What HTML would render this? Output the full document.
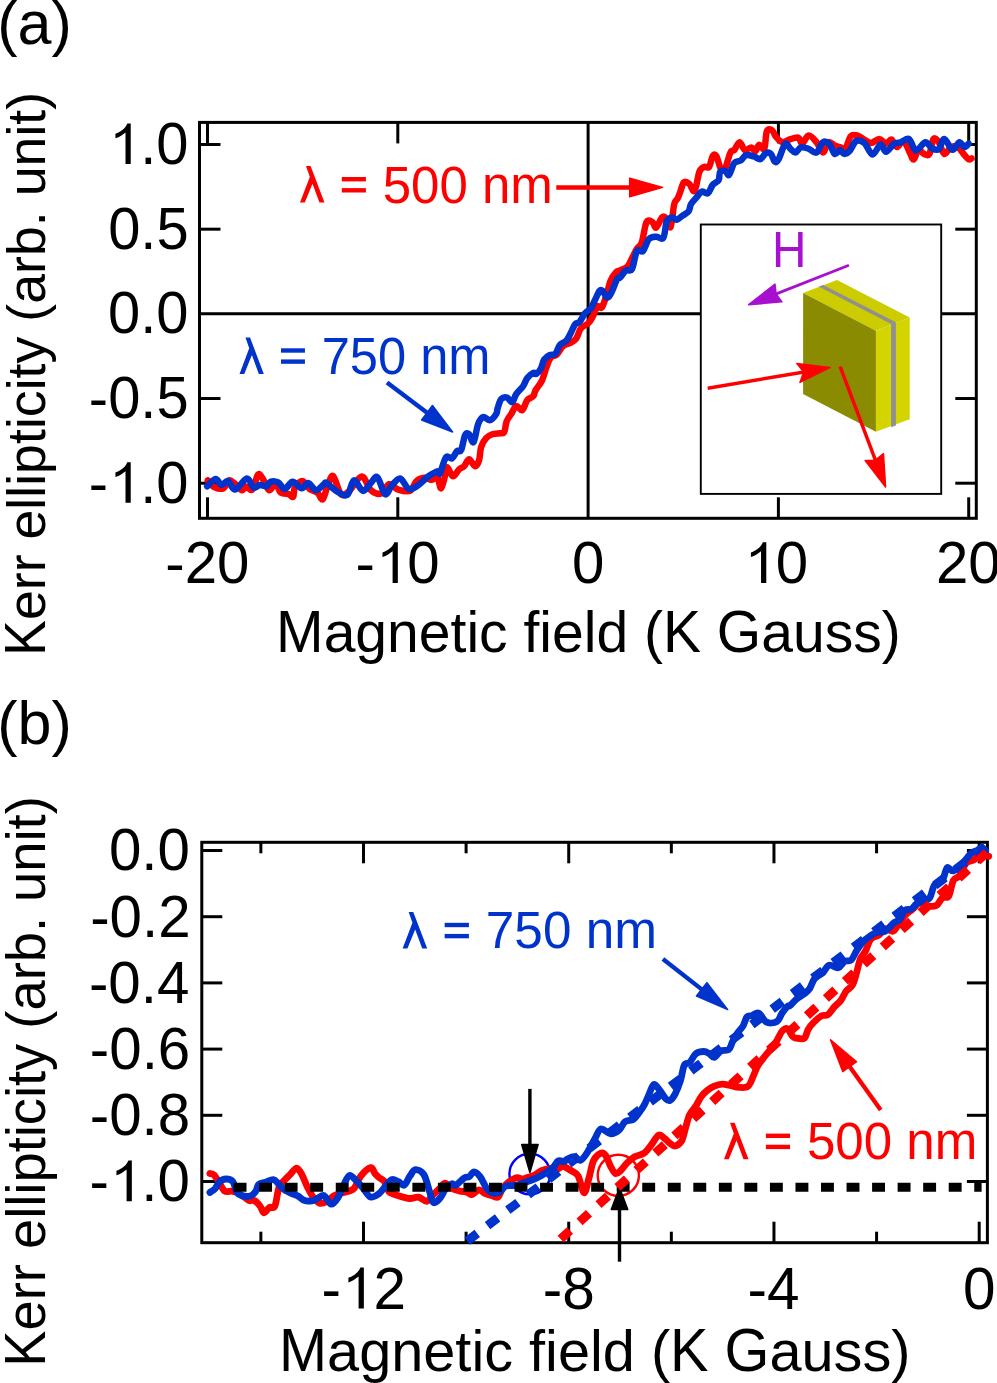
<!DOCTYPE html>
<html><head><meta charset="utf-8"><style>
html,body{margin:0;padding:0;background:#fff;width:997px;height:1383px;overflow:hidden}
svg{display:block}
text{font-family:"Liberation Sans",sans-serif}
</style></head><body>
<svg width="997" height="1383" viewBox="0 0 997 1383">
<rect width="997" height="1383" fill="#fff"/>
<defs><clipPath id="ca"><rect x="199.5" y="122.4" width="776.8" height="395.9"/></clipPath>
<clipPath id="cb"><rect x="201.8" y="842.3" width="785.6" height="400.4"/></clipPath></defs>
<line x1="588.10" y1="122.40" x2="588.10" y2="518.30" stroke="#000000" stroke-width="3.0" />
<line x1="199.50" y1="313.85" x2="976.30" y2="313.85" stroke="#000000" stroke-width="3.0" />
<line x1="207.50" y1="122.40" x2="207.50" y2="143.40" stroke="#000000" stroke-width="3.0" />
<line x1="207.50" y1="518.30" x2="207.50" y2="497.30" stroke="#000000" stroke-width="3.0" />
<line x1="397.80" y1="122.40" x2="397.80" y2="143.40" stroke="#000000" stroke-width="3.0" />
<line x1="397.80" y1="518.30" x2="397.80" y2="497.30" stroke="#000000" stroke-width="3.0" />
<line x1="778.40" y1="122.40" x2="778.40" y2="143.40" stroke="#000000" stroke-width="3.0" />
<line x1="778.40" y1="518.30" x2="778.40" y2="497.30" stroke="#000000" stroke-width="3.0" />
<line x1="968.70" y1="122.40" x2="968.70" y2="143.40" stroke="#000000" stroke-width="3.0" />
<line x1="968.70" y1="518.30" x2="968.70" y2="497.30" stroke="#000000" stroke-width="3.0" />
<line x1="199.50" y1="144.50" x2="220.50" y2="144.50" stroke="#000000" stroke-width="3.0" />
<line x1="976.30" y1="144.50" x2="955.30" y2="144.50" stroke="#000000" stroke-width="3.0" />
<line x1="199.50" y1="229.18" x2="220.50" y2="229.18" stroke="#000000" stroke-width="3.0" />
<line x1="976.30" y1="229.18" x2="955.30" y2="229.18" stroke="#000000" stroke-width="3.0" />
<line x1="199.50" y1="398.53" x2="220.50" y2="398.53" stroke="#000000" stroke-width="3.0" />
<line x1="976.30" y1="398.53" x2="955.30" y2="398.53" stroke="#000000" stroke-width="3.0" />
<line x1="199.50" y1="483.20" x2="220.50" y2="483.20" stroke="#000000" stroke-width="3.0" />
<line x1="976.30" y1="483.20" x2="955.30" y2="483.20" stroke="#000000" stroke-width="3.0" />
<g clip-path="url(#ca)">
<path d="M207.8 480.4 C208.9 481.5 211.7 485.7 214.3 487.0 C216.9 488.3 221.1 489.4 223.5 488.3 C225.9 487.2 227.0 481.3 228.7 480.4 C230.4 479.5 231.7 481.4 233.9 483.0 C236.1 484.6 239.8 489.6 241.7 490.2 C243.6 490.8 243.8 486.4 245.6 486.3 C247.3 486.2 250.1 491.6 252.2 489.6 C254.3 487.7 256.3 476.5 258.0 474.6 C259.7 472.8 260.8 475.9 262.6 478.5 C264.5 481.1 266.9 489.3 269.1 490.2 C271.3 491.1 273.7 483.3 275.6 483.7 C277.6 484.1 278.6 491.1 280.8 492.8 C283.0 494.5 286.6 493.5 288.7 494.1 C290.8 494.8 292.1 498.0 293.2 496.7 C294.3 495.4 293.6 488.9 295.2 486.3 C296.8 483.7 300.6 480.7 303.0 481.1 C305.4 481.5 307.1 486.9 309.5 488.9 C311.9 490.8 315.2 491.1 317.4 492.8 C319.6 494.5 321.0 500.2 322.6 499.3 C324.2 498.4 325.4 491.5 327.1 487.6 C328.8 483.7 330.7 474.8 333.0 475.9 C335.3 477.0 338.3 491.5 340.9 494.1 C343.5 496.7 345.2 494.4 348.7 491.5 C352.2 488.6 358.0 476.7 361.7 476.5 C365.4 476.3 367.6 487.4 370.9 490.2 C374.2 493.0 378.3 494.5 381.3 493.5 C384.3 492.5 386.3 484.9 389.1 484.3 C391.9 483.7 394.7 488.5 398.2 489.6 C401.7 490.7 406.9 492.3 410.0 490.9 C413.1 489.5 414.1 483.3 416.5 481.1 C418.9 478.9 421.7 478.0 424.3 477.8 C426.9 477.6 429.9 479.9 432.1 479.8 C434.3 479.7 435.9 475.8 437.4 477.2 C438.9 478.6 439.8 489.5 441.3 488.3 C442.8 487.1 445.4 473.3 446.5 470.0 C447.6 466.7 446.9 467.2 448.0 468.3 C449.1 469.4 451.1 476.1 453.0 476.3 C454.9 476.5 457.2 471.0 459.1 469.3 C461.0 467.6 462.4 468.0 464.1 466.3 C465.8 464.6 467.3 459.3 469.1 459.3 C470.9 459.3 473.4 466.1 475.1 466.3 C476.8 466.5 478.1 463.5 479.1 460.3 C480.1 457.1 479.9 450.9 481.1 447.2 C482.3 443.5 484.2 440.4 486.1 438.2 C488.0 436.0 489.9 435.0 492.2 434.2 C494.5 433.4 498.2 433.5 500.2 433.2 C502.2 432.9 503.1 434.2 504.2 432.2 C505.3 430.2 505.5 424.2 506.7 421.2 C507.9 418.2 509.6 416.6 511.2 414.1 C512.8 411.6 514.4 406.8 516.2 406.1 C518.0 405.4 520.4 411.1 522.2 410.1 C524.1 409.1 525.4 402.4 527.3 400.1 C529.1 397.8 531.9 397.7 533.3 396.1 C534.7 394.5 534.0 392.9 535.5 390.3 C537.0 387.7 540.3 384.2 542.1 380.3 C543.9 376.4 545.0 371.0 546.5 367.1 C548.0 363.2 549.3 359.2 551.0 357.2 C552.7 355.2 554.5 356.9 556.5 355.0 C558.5 353.1 560.7 348.1 563.1 346.1 C565.5 344.1 568.6 344.1 570.8 342.8 C573.0 341.5 574.6 340.8 576.3 338.4 C578.0 336.0 578.8 331.1 580.8 328.5 C582.8 325.9 586.5 325.0 588.5 323.0 C590.5 321.0 591.4 319.1 592.9 316.3 C594.4 313.5 595.8 307.9 597.3 306.4 C598.8 304.9 600.2 309.1 601.7 307.5 C603.2 305.9 604.6 300.9 606.1 296.5 C607.6 292.1 608.8 285.1 610.5 281.0 C612.2 276.9 614.5 274.0 616.1 272.2 C617.7 270.4 618.1 271.3 620.0 270.4 C621.9 269.5 625.2 268.8 627.2 266.8 C629.2 264.8 630.4 261.3 632.0 258.3 C633.6 255.3 635.3 251.3 636.9 248.7 C638.5 246.1 640.1 247.1 641.7 242.7 C643.3 238.3 644.7 225.6 646.5 222.2 C648.3 218.8 650.9 221.3 652.5 222.2 C654.1 223.1 654.5 228.4 656.1 227.6 C657.7 226.8 660.5 219.0 662.1 217.4 C663.7 215.8 664.3 216.4 665.7 218.0 C667.1 219.6 669.2 229.3 670.6 227.0 C672.0 224.7 673.0 209.0 674.2 204.2 C675.4 199.4 676.8 200.1 677.8 198.1 C678.8 196.1 679.2 194.7 680.2 192.1 C681.2 189.5 682.3 183.9 683.8 182.5 C685.3 181.1 687.4 182.3 689.2 183.7 C691.0 185.1 692.9 192.9 694.6 190.9 C696.3 188.9 697.8 175.7 699.4 171.7 C701.0 167.7 702.7 167.7 704.3 166.9 C705.9 166.1 707.7 168.7 709.1 166.9 C710.5 165.1 711.5 157.8 712.7 156.0 C713.9 154.2 714.9 153.8 716.3 156.0 C717.7 158.2 719.6 167.3 721.1 169.3 C722.6 171.3 723.7 171.0 725.2 168.2 C726.8 165.4 728.9 155.6 730.4 152.6 C731.9 149.6 732.8 151.7 734.3 150.0 C735.8 148.3 737.9 142.2 739.6 142.2 C741.4 142.2 742.8 149.1 744.8 150.0 C746.8 150.9 749.6 147.2 751.3 147.4 C753.0 147.6 753.9 151.7 755.2 151.3 C756.5 150.9 757.6 145.2 759.1 144.8 C760.6 144.4 763.0 151.0 764.3 148.7 C765.6 146.4 765.6 134.1 766.9 131.1 C768.2 128.1 770.7 129.4 772.2 130.4 C773.7 131.4 774.4 135.0 776.1 137.0 C777.8 139.0 780.4 141.8 782.6 142.2 C784.8 142.6 786.5 140.4 789.1 139.6 C791.7 138.8 796.0 136.9 798.2 137.6 C800.4 138.2 800.4 143.8 802.1 143.5 C803.9 143.2 806.3 135.8 808.7 135.6 C811.1 135.4 814.1 139.4 816.5 142.2 C818.9 145.0 821.0 152.6 823.0 152.6 C825.0 152.6 826.2 143.4 828.2 142.2 C830.2 141.0 832.7 144.6 834.7 145.4 C836.7 146.2 838.2 146.6 840.0 147.1 C841.8 147.6 843.6 150.2 845.4 148.4 C847.2 146.6 848.8 138.3 850.8 136.2 C852.8 134.1 855.3 135.0 857.6 135.6 C859.9 136.2 862.1 138.4 864.4 139.6 C866.6 140.8 868.6 143.1 871.1 143.0 C873.6 142.9 876.8 138.9 879.3 139.0 C881.8 139.1 884.0 143.6 886.0 143.7 C888.0 143.8 889.7 139.0 891.5 139.6 C893.3 140.2 894.9 146.9 896.9 147.1 C898.9 147.3 901.4 139.9 903.6 141.0 C905.9 142.1 908.7 150.8 910.4 153.9 C912.1 157.0 912.4 160.0 913.8 159.3 C915.1 158.6 916.8 150.7 918.5 149.8 C920.2 148.9 922.2 153.2 924.0 153.9 C925.8 154.6 927.8 156.4 929.4 153.9 C931.0 151.4 931.8 140.9 933.4 139.0 C935.0 137.1 937.0 139.8 938.8 142.3 C940.6 144.8 942.3 153.1 944.3 153.9 C946.3 154.7 948.8 148.2 951.0 147.1 C953.2 146.0 955.5 145.8 957.8 147.1 C960.1 148.4 962.8 153.2 964.6 155.2 C966.4 157.2 967.5 158.8 968.6 159.3 C969.8 159.8 971.0 158.6 971.5 158.4" fill="none" stroke="#ff0000" stroke-width="6.5" stroke-linejoin="round" stroke-linecap="round"/>
<path d="M207.2 486.3 C208.6 485.1 213.2 479.3 215.6 479.1 C218.0 478.9 219.4 484.7 221.5 485.0 C223.6 485.3 225.7 480.3 228.0 481.1 C230.3 481.9 232.0 490.0 235.2 489.6 C238.3 489.2 243.8 478.8 246.9 478.5 C250.0 478.2 251.3 486.5 253.5 487.6 C255.7 488.7 257.8 485.2 260.0 485.0 C262.2 484.8 264.8 486.9 266.5 486.3 C268.2 485.8 268.4 482.4 270.4 481.7 C272.3 481.0 275.8 481.2 278.2 482.4 C280.6 483.6 282.4 489.0 284.8 488.9 C287.2 488.8 289.8 481.8 292.6 481.7 C295.4 481.6 299.1 488.1 301.7 488.3 C304.3 488.5 305.8 482.7 308.2 483.0 C310.6 483.3 313.4 490.0 316.0 490.2 C318.6 490.4 322.1 485.5 323.9 484.3 C325.6 483.1 324.3 481.8 326.5 483.0 C328.7 484.2 333.5 489.5 337.0 491.5 C340.5 493.5 344.6 496.7 347.4 494.8 C350.2 492.9 351.3 481.0 353.9 480.4 C356.5 479.8 360.2 490.5 363.0 490.9 C365.8 491.3 368.5 485.3 370.9 483.0 C373.3 480.7 375.0 475.3 377.4 477.2 C379.8 479.1 382.8 492.7 385.2 494.1 C387.6 495.5 389.2 488.2 391.7 485.6 C394.2 483.0 397.4 477.9 400.2 478.5 C403.0 479.1 405.8 487.7 408.7 488.9 C411.6 490.1 414.6 487.7 417.8 485.6 C421.1 483.5 424.9 478.9 428.2 476.5 C431.5 474.1 435.4 471.8 437.4 471.3 C439.4 470.8 438.6 475.6 440.0 473.3 C441.4 471.0 444.0 459.8 446.0 457.3 C448.0 454.8 450.2 459.3 452.0 458.3 C453.8 457.3 455.5 452.6 457.0 451.2 C458.5 449.8 459.8 452.9 461.1 450.2 C462.5 447.5 463.8 437.9 465.1 435.2 C466.4 432.5 467.7 433.0 469.1 434.2 C470.5 435.4 472.1 443.9 473.6 442.2 C475.1 440.5 476.5 428.4 478.1 424.2 C479.7 420.0 481.1 417.8 483.1 417.1 C485.1 416.4 488.0 420.7 490.2 420.2 C492.4 419.7 494.9 416.1 496.2 414.1 C497.4 412.1 496.9 410.6 497.7 408.1 C498.5 405.6 499.6 400.9 501.2 399.1 C502.8 397.4 505.4 397.1 507.2 397.6 C509.0 398.1 510.7 402.7 512.2 402.1 C513.7 401.5 514.4 396.8 516.2 394.1 C518.0 391.4 521.4 388.7 523.2 386.0 C525.1 383.3 525.6 380.2 527.3 378.0 C529.0 375.8 531.8 373.7 533.3 373.0 C534.8 372.3 535.3 374.5 536.6 373.7 C537.9 372.9 539.7 370.6 541.0 368.2 C542.3 365.8 542.8 361.6 544.3 359.4 C545.8 357.2 548.0 355.9 549.9 355.0 C551.8 354.1 553.8 355.5 555.4 353.8 C557.0 352.1 558.0 347.2 559.8 345.0 C561.6 342.8 564.6 342.6 566.4 340.6 C568.2 338.6 569.3 335.6 570.8 332.9 C572.3 330.1 573.7 325.9 575.2 324.1 C576.7 322.3 577.9 323.8 579.6 321.9 C581.3 320.0 583.4 315.2 585.2 313.0 C587.1 310.8 589.1 310.8 590.7 308.6 C592.4 306.4 593.6 302.7 595.1 299.8 C596.6 296.9 598.2 292.5 599.5 291.0 C600.8 289.5 601.5 289.9 602.8 291.0 C604.1 292.1 605.7 297.4 607.2 297.6 C608.7 297.8 609.9 295.2 611.6 292.1 C613.3 289.0 615.8 281.2 617.2 278.8 C618.6 276.4 618.5 279.0 620.0 277.6 C621.5 276.2 624.0 271.8 626.0 270.4 C628.0 269.0 630.2 272.4 632.0 269.2 C633.8 266.0 635.1 254.1 636.9 251.1 C638.7 248.1 640.9 253.1 642.9 251.1 C644.9 249.1 646.7 241.5 648.9 239.1 C651.1 236.7 653.7 236.9 656.1 236.7 C658.5 236.5 661.5 240.5 663.3 237.9 C665.1 235.3 665.3 224.4 666.9 221.0 C668.5 217.6 671.4 217.6 673.0 217.4 C674.6 217.2 675.0 220.1 676.6 219.8 C678.2 219.5 680.6 217.0 682.6 215.6 C684.6 214.2 687.2 213.3 688.6 211.4 C690.0 209.5 689.6 206.6 691.0 204.2 C692.4 201.8 695.2 199.0 697.0 196.9 C698.8 194.8 700.0 192.1 701.8 191.5 C703.6 190.9 706.1 194.4 707.9 193.3 C709.7 192.2 710.9 187.1 712.7 184.9 C714.5 182.7 717.5 182.2 718.7 180.1 C719.9 178.0 718.9 173.7 720.0 172.2 C721.1 170.7 723.7 170.5 725.2 170.9 C726.7 171.3 727.6 176.1 729.1 174.8 C730.6 173.5 732.3 165.4 734.3 163.0 C736.3 160.6 738.9 161.7 740.9 160.4 C742.9 159.1 743.9 155.8 746.1 155.2 C748.3 154.5 751.5 155.8 753.9 156.5 C756.3 157.2 758.4 159.6 760.4 159.1 C762.4 158.6 763.9 154.2 765.6 153.3 C767.4 152.4 769.4 152.5 770.9 153.9 C772.4 155.3 773.5 160.8 774.8 161.7 C776.1 162.6 777.0 162.0 778.7 159.1 C780.4 156.2 783.2 145.8 785.2 144.1 C787.2 142.4 788.7 147.3 790.4 148.7 C792.1 150.1 793.9 152.8 795.6 152.6 C797.3 152.4 798.6 148.1 800.8 147.4 C803.0 146.8 806.1 147.8 808.7 148.7 C811.3 149.6 814.1 153.7 816.5 152.6 C818.9 151.5 820.8 143.6 823.0 142.2 C825.2 140.8 827.5 142.1 829.5 144.1 C831.5 146.1 833.0 152.9 834.7 153.9 C836.5 154.9 838.4 150.0 840.0 150.0 C841.6 150.0 842.5 153.7 844.1 153.9 C845.7 154.1 847.5 153.2 849.5 151.1 C851.5 148.9 853.7 142.3 856.2 141.0 C858.7 139.7 861.7 140.8 864.4 143.0 C867.1 145.2 869.8 154.3 872.5 154.5 C875.2 154.7 878.4 144.8 880.6 144.4 C882.9 144.0 883.7 151.9 886.0 151.8 C888.3 151.7 891.7 145.3 894.2 143.7 C896.7 142.1 898.4 143.1 900.9 142.3 C903.4 141.5 906.6 137.6 909.1 139.0 C911.6 140.4 913.1 149.9 915.8 150.5 C918.5 151.1 922.6 142.7 925.3 142.3 C928.0 142.0 929.9 147.3 932.1 148.4 C934.4 149.5 936.8 150.7 938.8 149.1 C940.8 147.5 942.0 138.9 944.3 139.0 C946.6 139.1 949.9 149.2 952.4 149.8 C954.9 150.4 957.2 142.8 959.2 142.3 C961.2 141.9 963.0 146.9 964.6 147.1 C966.2 147.3 967.9 144.3 968.6 143.7" fill="none" stroke="#0033cc" stroke-width="6.5" stroke-linejoin="round" stroke-linecap="round"/>
</g>
<rect x="199.50" y="122.40" width="776.80" height="395.90" fill="none" stroke="#000" stroke-width="3.0"/>
<rect x="700.8" y="224.5" width="240.4" height="269.4" fill="#fff" stroke="#000" stroke-width="1.9"/>
<polygon points="803.1,292.9 837,280 909.7,317.6 875.9,330.8" fill="#cccc00"/>
<polygon points="875.9,330.8 909.7,317.6 909.7,419.2 875.9,431.7" fill="#d4d400"/>
<polygon points="803.1,292.9 875.9,330.8 875.9,431.7 803.1,394.1" fill="#8a8b00"/>
<polygon points="818.6,286.6 823.2,284.9 895.9,322.3 891.1,324.1" fill="#909090"/>
<polygon points="891.1,324.1 895.9,322.3 895.9,425.5 891.1,427.3" fill="#909090"/>
<line x1="848.90" y1="265.30" x2="775.63" y2="294.11" stroke="#a810d0" stroke-width="2.8" stroke-linecap="butt"/>
<path d="M748.70 304.70 L775.00 284.15 L776.10 293.93 L781.96 301.83 Z" fill="#a810d0" stroke="#a810d0" stroke-width="1.5" stroke-linejoin="round"/>
<line x1="707.70" y1="388.20" x2="804.20" y2="371.93" stroke="#ff0000" stroke-width="3.5" stroke-linecap="butt"/>
<path d="M829.90 367.60 L799.95 382.44 L803.71 372.02 L796.74 363.40 Z" fill="#ff0000" stroke="#ff0000" stroke-width="1.5" stroke-linejoin="round"/>
<line x1="840.10" y1="366.50" x2="875.61" y2="460.62" stroke="#ff0000" stroke-width="3.5" stroke-linecap="butt"/>
<path d="M885.60 487.10 L865.14 460.62 L875.43 460.15 L883.47 453.70 Z" fill="#ff0000" stroke="#ff0000" stroke-width="1.5" stroke-linejoin="round"/>
<line x1="556.30" y1="187.40" x2="630.20" y2="187.40" stroke="#ff0000" stroke-width="4.5" stroke-linecap="butt"/>
<path d="M662.70 187.40 L629.70 196.70 L629.70 187.40 L629.70 178.10 Z" fill="#ff0000" stroke="#ff0000" stroke-width="1.5" stroke-linejoin="round"/>
<line x1="387.00" y1="382.60" x2="427.44" y2="413.05" stroke="#0033cc" stroke-width="4.4" stroke-linecap="butt"/>
<path d="M452.60 432.00 L421.62 419.94 L427.04 412.75 L432.45 405.56 Z" fill="#0033cc" stroke="#0033cc" stroke-width="1.5" stroke-linejoin="round"/>
<line x1="260.86" y1="842.30" x2="260.86" y2="853.30" stroke="#000000" stroke-width="3.0" />
<line x1="260.86" y1="1242.70" x2="260.86" y2="1231.70" stroke="#000000" stroke-width="3.0" />
<line x1="363.48" y1="842.30" x2="363.48" y2="863.30" stroke="#000000" stroke-width="3.0" />
<line x1="363.48" y1="1242.70" x2="363.48" y2="1221.70" stroke="#000000" stroke-width="3.0" />
<line x1="466.10" y1="842.30" x2="466.10" y2="853.30" stroke="#000000" stroke-width="3.0" />
<line x1="466.10" y1="1242.70" x2="466.10" y2="1231.70" stroke="#000000" stroke-width="3.0" />
<line x1="568.72" y1="842.30" x2="568.72" y2="863.30" stroke="#000000" stroke-width="3.0" />
<line x1="568.72" y1="1242.70" x2="568.72" y2="1221.70" stroke="#000000" stroke-width="3.0" />
<line x1="671.34" y1="842.30" x2="671.34" y2="853.30" stroke="#000000" stroke-width="3.0" />
<line x1="671.34" y1="1242.70" x2="671.34" y2="1231.70" stroke="#000000" stroke-width="3.0" />
<line x1="773.96" y1="842.30" x2="773.96" y2="863.30" stroke="#000000" stroke-width="3.0" />
<line x1="773.96" y1="1242.70" x2="773.96" y2="1221.70" stroke="#000000" stroke-width="3.0" />
<line x1="876.58" y1="842.30" x2="876.58" y2="853.30" stroke="#000000" stroke-width="3.0" />
<line x1="876.58" y1="1242.70" x2="876.58" y2="1231.70" stroke="#000000" stroke-width="3.0" />
<line x1="979.20" y1="842.30" x2="979.20" y2="863.30" stroke="#000000" stroke-width="3.0" />
<line x1="979.20" y1="1242.70" x2="979.20" y2="1221.70" stroke="#000000" stroke-width="3.0" />
<line x1="201.80" y1="850.50" x2="222.30" y2="850.50" stroke="#000000" stroke-width="3.0" />
<line x1="987.40" y1="850.50" x2="966.90" y2="850.50" stroke="#000000" stroke-width="3.0" />
<line x1="201.80" y1="916.70" x2="222.30" y2="916.70" stroke="#000000" stroke-width="3.0" />
<line x1="987.40" y1="916.70" x2="966.90" y2="916.70" stroke="#000000" stroke-width="3.0" />
<line x1="201.80" y1="982.90" x2="222.30" y2="982.90" stroke="#000000" stroke-width="3.0" />
<line x1="987.40" y1="982.90" x2="966.90" y2="982.90" stroke="#000000" stroke-width="3.0" />
<line x1="201.80" y1="1049.10" x2="222.30" y2="1049.10" stroke="#000000" stroke-width="3.0" />
<line x1="987.40" y1="1049.10" x2="966.90" y2="1049.10" stroke="#000000" stroke-width="3.0" />
<line x1="201.80" y1="1115.30" x2="222.30" y2="1115.30" stroke="#000000" stroke-width="3.0" />
<line x1="987.40" y1="1115.30" x2="966.90" y2="1115.30" stroke="#000000" stroke-width="3.0" />
<line x1="201.80" y1="1181.50" x2="222.30" y2="1181.50" stroke="#000000" stroke-width="3.0" />
<line x1="987.40" y1="1181.50" x2="966.90" y2="1181.50" stroke="#000000" stroke-width="3.0" />
<rect x="201.80" y="842.30" width="785.60" height="400.40" fill="none" stroke="#000" stroke-width="3.0"/>
<circle cx="529.8" cy="1174.0" r="20.4" fill="none" stroke="#0000ff" stroke-width="2.4"/>
<circle cx="618.3" cy="1175.4" r="20.6" fill="none" stroke="#ff0000" stroke-width="2.4"/>
<path d="M209.9 1173.5 C210.6 1173.7 212.4 1173.3 214.0 1174.9 C215.6 1176.5 217.6 1180.3 219.4 1183.0 C221.2 1185.7 222.8 1189.8 224.8 1191.1 C226.8 1192.4 229.6 1190.9 231.6 1191.1 C233.6 1191.3 235.0 1191.6 237.0 1192.5 C239.0 1193.4 241.7 1195.2 243.7 1196.6 C245.7 1197.9 247.4 1199.9 249.2 1200.6 C251.0 1201.3 252.8 1199.7 254.6 1200.6 C256.4 1201.5 258.4 1204.0 260.0 1206.0 C261.6 1208.0 262.5 1212.6 264.1 1212.8 C265.7 1213.0 267.7 1208.5 269.5 1207.4 C271.3 1206.3 273.3 1209.4 274.9 1206.0 C276.5 1202.6 277.4 1191.4 279.0 1187.1 C280.6 1182.8 282.6 1182.3 284.4 1180.3 C286.2 1178.3 287.8 1176.9 289.8 1174.9 C291.8 1172.9 294.6 1168.1 296.6 1168.1 C298.6 1168.1 300.2 1171.7 302.0 1174.9 C303.8 1178.1 305.6 1183.5 307.4 1187.1 C309.2 1190.7 310.8 1193.9 312.8 1196.6 C314.8 1199.3 317.2 1202.5 319.6 1203.3 C322.0 1204.1 324.6 1202.6 327.0 1201.3 C329.4 1200.0 331.4 1197.1 334.0 1195.7 C336.6 1194.3 339.2 1194.1 342.5 1192.9 C345.8 1191.7 350.7 1191.5 353.7 1188.7 C356.7 1185.9 357.9 1179.6 360.7 1176.1 C363.5 1172.6 368.2 1168.1 370.6 1167.6 C373.0 1167.1 373.4 1171.6 374.8 1173.3 C376.2 1175.0 377.4 1176.1 379.0 1177.5 C380.6 1178.9 383.0 1179.4 384.6 1181.7 C386.2 1184.0 386.5 1189.2 388.8 1191.5 C391.1 1193.8 395.1 1194.5 398.6 1195.7 C402.1 1196.9 406.6 1198.3 409.9 1198.5 C413.2 1198.7 415.5 1196.6 418.3 1197.1 C421.1 1197.6 424.4 1201.5 426.7 1201.3 C429.0 1201.1 430.2 1197.8 432.3 1195.7 C434.4 1193.6 437.3 1190.8 439.4 1188.7 C441.5 1186.6 443.2 1183.3 445.0 1183.1 C446.8 1182.9 447.6 1186.1 450.0 1187.4 C452.4 1188.7 456.8 1190.2 459.6 1191.0 C462.4 1191.8 464.9 1191.6 466.9 1192.2 C468.9 1192.8 469.7 1195.0 471.7 1194.6 C473.7 1194.2 476.7 1190.0 478.9 1189.8 C481.1 1189.6 482.7 1192.4 484.9 1193.4 C487.1 1194.4 489.9 1195.2 492.1 1195.8 C494.3 1196.4 496.5 1198.0 498.1 1197.0 C499.7 1196.0 500.4 1192.0 501.8 1189.8 C503.2 1187.6 504.2 1185.8 506.6 1183.8 C509.0 1181.8 513.6 1178.6 516.2 1177.8 C518.8 1177.0 520.2 1179.1 522.2 1179.0 C524.2 1178.9 526.2 1177.8 528.2 1177.2 C530.2 1176.6 532.1 1176.5 534.3 1175.4 C536.5 1174.3 538.9 1171.7 541.5 1170.6 C544.1 1169.5 547.3 1168.9 549.9 1168.7 C552.5 1168.5 554.9 1169.8 557.1 1169.3 C559.3 1168.8 561.6 1166.0 563.1 1165.7 C564.6 1165.4 564.5 1166.6 566.0 1167.5 C567.5 1168.4 570.0 1169.7 572.0 1171.1 C574.0 1172.5 576.1 1172.3 578.1 1175.9 C580.1 1179.5 582.3 1192.4 584.1 1192.8 C585.9 1193.2 587.3 1183.7 588.9 1178.3 C590.5 1172.9 591.7 1164.5 593.7 1160.3 C595.7 1156.1 598.9 1153.9 600.9 1153.1 C602.9 1152.3 604.1 1153.3 605.7 1155.5 C607.3 1157.7 609.0 1163.3 610.6 1166.3 C612.2 1169.3 613.8 1172.7 615.4 1173.5 C617.0 1174.3 618.2 1172.9 620.2 1171.1 C622.2 1169.3 625.0 1165.1 627.4 1162.7 C629.8 1160.3 631.8 1158.3 634.6 1156.7 C637.4 1155.1 641.5 1155.1 644.3 1153.1 C647.1 1151.1 649.1 1147.6 651.5 1144.6 C653.9 1141.6 656.5 1136.0 658.7 1135.0 C660.9 1134.0 662.8 1137.2 664.7 1138.6 C666.6 1140.0 668.2 1142.2 670.0 1143.4 C671.8 1144.6 673.2 1146.4 675.2 1146.0 C677.2 1145.6 680.0 1143.8 681.7 1140.8 C683.4 1137.8 684.3 1132.1 685.6 1127.8 C686.9 1123.5 687.9 1118.4 689.6 1114.7 C691.4 1111.0 694.2 1108.6 696.1 1105.6 C698.0 1102.6 699.3 1099.1 701.3 1096.5 C703.2 1093.9 705.6 1091.7 707.8 1090.0 C710.0 1088.3 711.9 1087.1 714.3 1086.1 C716.7 1085.1 719.6 1084.2 722.2 1084.1 C724.8 1084.0 727.2 1084.9 730.0 1085.4 C732.8 1086.0 736.1 1087.3 739.1 1087.4 C742.1 1087.5 745.8 1088.1 748.2 1086.1 C750.6 1084.1 752.0 1078.9 753.5 1075.6 C755.0 1072.3 755.7 1069.5 757.4 1066.5 C759.1 1063.5 761.5 1060.5 763.9 1057.4 C766.3 1054.4 769.5 1051.0 771.7 1048.2 C773.9 1045.4 775.2 1043.2 776.9 1040.4 C778.6 1037.6 780.4 1033.2 782.1 1031.3 C783.9 1029.3 785.6 1027.8 787.4 1028.7 C789.1 1029.6 791.1 1034.9 792.6 1036.5 C794.1 1038.1 794.5 1037.9 796.5 1038.2 C798.5 1038.5 802.3 1039.7 804.3 1038.2 C806.3 1036.7 806.8 1031.7 808.3 1029.1 C809.8 1026.5 811.3 1024.8 813.5 1022.6 C815.7 1020.4 818.9 1017.3 821.3 1016.0 C823.7 1014.7 825.6 1016.2 827.8 1014.7 C830.0 1013.2 832.1 1009.3 834.3 1006.9 C836.5 1004.5 838.9 1003.0 840.9 1000.4 C842.9 997.8 844.1 993.9 846.1 991.3 C848.1 988.7 850.9 987.8 852.6 984.8 C854.3 981.8 855.2 977.4 856.5 973.0 C857.8 968.6 858.9 962.4 860.4 958.7 C861.9 955.0 863.9 954.2 865.6 950.9 C867.3 947.6 868.6 941.7 870.8 939.1 C873.0 936.5 876.3 936.9 878.7 935.2 C881.1 933.5 882.8 929.4 885.2 928.7 C887.6 928.1 890.8 931.9 893.0 931.3 C895.2 930.6 896.2 927.4 898.2 924.8 C900.2 922.2 902.3 918.2 904.7 915.6 C907.1 913.0 910.1 911.3 912.6 909.1 C915.1 906.9 917.9 903.2 920.0 902.6 C922.1 902.0 922.3 905.1 925.0 905.6 C927.7 906.1 933.2 906.9 936.1 905.6 C939.0 904.3 940.3 899.3 942.4 897.7 C944.5 896.1 946.9 899.0 948.7 896.1 C950.5 893.2 951.6 883.8 953.4 880.4 C955.2 877.0 957.6 878.6 959.7 875.7 C961.8 872.8 963.6 865.7 966.0 863.1 C968.4 860.5 971.8 861.2 973.9 859.9 C976.0 858.6 976.8 856.0 978.6 855.2 C980.4 854.4 983.2 855.0 984.9 855.2 C986.6 855.4 988.1 856.1 988.7 856.3" fill="none" stroke="#ff0000" stroke-width="6.8" stroke-linejoin="round" stroke-linecap="round"/>
<path d="M209.9 1192.5 C210.8 1191.8 213.7 1190.2 215.3 1188.4 C216.9 1186.6 217.6 1183.3 219.4 1181.7 C221.2 1180.1 223.8 1179.0 226.1 1179.0 C228.3 1179.0 231.1 1179.5 232.9 1181.7 C234.7 1184.0 235.4 1190.1 237.0 1192.5 C238.6 1194.9 240.2 1195.3 242.4 1195.9 C244.7 1196.5 248.2 1196.7 250.5 1195.9 C252.8 1195.1 254.6 1193.0 255.9 1191.1 C257.2 1189.2 257.0 1185.9 258.6 1184.4 C260.2 1182.9 262.9 1183.1 265.4 1182.3 C267.9 1181.5 271.2 1179.2 273.5 1179.6 C275.8 1179.9 277.2 1182.7 279.0 1184.4 C280.8 1186.1 282.1 1188.2 284.4 1189.8 C286.6 1191.4 290.2 1192.9 292.5 1193.9 C294.8 1194.9 295.9 1194.8 297.9 1195.9 C299.9 1197.0 302.2 1199.8 304.7 1200.6 C307.2 1201.4 310.6 1201.0 312.8 1200.6 C315.1 1200.1 316.3 1198.7 318.2 1197.9 C320.1 1197.1 322.0 1194.7 324.2 1195.7 C326.4 1196.8 328.8 1204.0 331.2 1204.2 C333.6 1204.4 336.2 1200.4 338.3 1197.1 C340.4 1193.8 342.0 1188.1 343.9 1184.5 C345.8 1180.9 347.4 1176.0 349.5 1175.4 C351.6 1174.8 354.2 1178.8 356.5 1181.0 C358.8 1183.2 361.1 1186.0 363.5 1188.7 C365.9 1191.4 368.0 1196.3 370.6 1197.1 C373.2 1197.9 376.7 1195.2 379.0 1193.6 C381.3 1192.0 382.5 1189.6 384.6 1187.3 C386.7 1185.0 389.3 1180.5 391.6 1179.6 C393.9 1178.7 396.5 1180.8 398.6 1181.7 C400.7 1182.6 402.4 1186.1 404.3 1185.2 C406.2 1184.3 408.0 1178.7 409.9 1176.1 C411.8 1173.5 413.2 1169.9 415.5 1169.7 C417.8 1169.5 421.6 1171.1 423.9 1174.7 C426.2 1178.3 427.9 1186.8 429.5 1191.5 C431.1 1196.2 431.8 1201.8 433.7 1202.7 C435.6 1203.6 438.7 1199.7 440.8 1197.1 C442.9 1194.5 444.5 1189.5 446.4 1187.3 C448.3 1185.1 450.4 1184.2 452.0 1183.8 C453.6 1183.4 453.9 1186.0 456.0 1185.0 C458.1 1184.0 462.2 1179.2 464.4 1177.8 C466.6 1176.4 467.7 1177.6 469.3 1176.6 C470.9 1175.6 472.3 1171.8 474.1 1171.8 C475.9 1171.8 478.1 1174.0 480.1 1176.6 C482.1 1179.2 484.1 1184.7 486.1 1187.4 C488.1 1190.1 489.9 1192.0 492.1 1192.8 C494.3 1193.6 497.2 1193.3 499.4 1192.2 C501.6 1191.1 503.2 1187.3 505.4 1186.2 C507.6 1185.1 510.6 1185.8 512.6 1185.6 C514.6 1185.4 515.4 1185.5 517.4 1185.0 C519.4 1184.5 521.8 1183.6 524.6 1182.6 C527.4 1181.6 531.5 1180.2 534.3 1179.0 C537.1 1177.8 539.3 1176.6 541.5 1175.4 C543.7 1174.2 545.5 1173.2 547.5 1171.8 C549.5 1170.4 551.7 1168.7 553.5 1166.9 C555.3 1165.1 556.5 1161.8 558.3 1160.9 C560.1 1160.0 562.8 1161.8 564.3 1161.5 C565.8 1161.2 565.5 1159.9 567.2 1159.1 C568.9 1158.3 572.2 1156.5 574.4 1156.7 C576.6 1156.9 578.3 1161.1 580.5 1160.3 C582.7 1159.5 585.3 1155.4 587.7 1151.8 C590.1 1148.2 592.7 1142.4 594.9 1138.6 C597.1 1134.8 598.3 1129.8 600.9 1129.0 C603.5 1128.2 607.6 1133.6 610.6 1133.8 C613.6 1134.0 616.6 1132.2 619.0 1130.2 C621.4 1128.2 622.6 1123.6 625.0 1121.8 C627.4 1120.0 631.0 1120.9 633.4 1119.3 C635.8 1117.7 637.6 1114.5 639.4 1112.1 C641.2 1109.7 642.7 1107.9 644.3 1104.9 C645.9 1101.9 647.5 1097.5 649.1 1094.1 C650.7 1090.7 652.1 1085.0 653.9 1084.4 C655.7 1083.8 657.9 1088.1 659.9 1090.5 C661.9 1092.9 664.2 1097.2 665.9 1098.9 C667.6 1100.6 668.5 1101.2 670.0 1100.4 C671.5 1099.6 673.5 1097.2 675.2 1093.9 C676.9 1090.6 678.9 1085.6 680.4 1080.8 C681.9 1076.0 682.8 1068.2 684.3 1065.2 C685.8 1062.2 687.6 1064.5 689.6 1062.6 C691.6 1060.6 693.7 1055.3 696.1 1053.5 C698.5 1051.7 701.7 1051.5 703.9 1051.5 C706.1 1051.5 707.4 1052.5 709.1 1053.5 C710.8 1054.5 712.3 1057.8 714.3 1057.4 C716.3 1057.0 718.5 1052.2 720.9 1050.9 C723.3 1049.6 726.8 1051.1 728.7 1049.6 C730.7 1048.1 731.1 1044.5 732.6 1041.7 C734.1 1038.9 736.1 1035.2 737.8 1032.6 C739.5 1030.0 741.5 1028.7 743.0 1026.1 C744.5 1023.5 745.4 1018.8 746.9 1017.0 C748.4 1015.2 750.1 1016.3 752.1 1015.6 C754.1 1014.9 756.3 1011.9 758.7 1013.0 C761.1 1014.1 763.5 1020.8 766.5 1022.2 C769.5 1023.6 774.3 1023.0 776.9 1021.5 C779.5 1020.0 780.4 1015.5 782.1 1013.0 C783.9 1010.5 786.1 1007.7 787.4 1006.5 C788.7 1005.3 788.5 1006.8 790.0 1005.6 C791.5 1004.4 794.1 1001.1 796.5 999.1 C798.9 997.1 802.1 995.6 804.3 993.9 C806.5 992.2 807.9 991.3 809.6 988.7 C811.4 986.1 812.6 980.8 814.8 978.2 C817.0 975.6 820.2 975.2 822.6 973.0 C825.0 970.8 826.5 966.1 829.1 965.2 C831.7 964.3 835.6 968.4 838.2 967.8 C840.8 967.1 842.6 962.6 844.8 961.3 C847.0 960.0 849.3 961.7 851.3 960.0 C853.2 958.3 854.5 953.9 856.5 950.9 C858.5 947.9 860.8 944.1 863.0 941.7 C865.2 939.3 867.3 938.0 869.5 936.5 C871.7 935.0 873.5 933.5 876.1 932.6 C878.7 931.7 882.4 932.8 885.2 931.3 C888.0 929.8 890.6 925.5 893.0 923.5 C895.4 921.5 897.5 921.8 899.5 919.6 C901.5 917.4 902.7 912.1 904.7 910.4 C906.7 908.6 909.3 910.2 911.3 909.1 C913.3 908.0 914.5 905.3 916.5 903.9 C918.5 902.5 921.3 901.9 923.5 900.9 C925.7 899.9 928.0 900.3 929.8 897.7 C931.6 895.1 932.4 888.0 934.5 885.1 C936.6 882.2 940.3 883.3 942.4 880.4 C944.5 877.5 945.3 869.4 947.1 867.8 C948.9 866.2 950.8 871.7 953.4 870.9 C956.0 870.1 959.9 866.0 962.8 863.1 C965.7 860.2 968.3 855.7 970.7 853.6 C973.1 851.5 975.2 851.5 977.0 850.5 C978.8 849.5 980.3 847.2 981.7 847.3 C983.1 847.4 985.0 850.3 985.6 850.9" fill="none" stroke="#0033cc" stroke-width="6.8" stroke-linejoin="round" stroke-linecap="round"/>
<line x1="233.6" y1="1187.3" x2="981.6" y2="1187.3" stroke="#000" stroke-width="9" stroke-dasharray="12.9 12.64"/>
<line x1="529.90" y1="1088.90" x2="529.90" y2="1145.10" stroke="#000000" stroke-width="3.4" stroke-linecap="butt"/>
<path d="M529.90 1172.60 L521.70 1144.60 L529.90 1144.60 L538.10 1144.60 Z" fill="#000000" stroke="#000000" stroke-width="1.5" stroke-linejoin="round"/>
<line x1="619.50" y1="1261.70" x2="619.50" y2="1209.00" stroke="#000000" stroke-width="3.4" stroke-linecap="butt"/>
<path d="M619.50 1187.50 L627.75 1209.50 L619.50 1209.50 L611.25 1209.50 Z" fill="#000000" stroke="#000000" stroke-width="1.5" stroke-linejoin="round"/>
<line x1="467.15" y1="1241.1" x2="985.55" y2="846.8" stroke="#0033cc" stroke-width="9" stroke-dasharray="12.7 12.85"/>
<line x1="560.6" y1="1239.0" x2="986.9" y2="852.5" stroke="#ff0000" stroke-width="9" stroke-dasharray="12.7 12.88"/>
<line x1="662.90" y1="959.00" x2="702.08" y2="989.60" stroke="#0033cc" stroke-width="4.3" stroke-linecap="butt"/>
<path d="M727.70 1009.60 L696.46 995.99 L701.69 989.29 L706.92 982.59 Z" fill="#0033cc" stroke="#0033cc" stroke-width="1.5" stroke-linejoin="round"/>
<line x1="880.70" y1="1110.10" x2="849.39" y2="1066.25" stroke="#ff0000" stroke-width="4.3" stroke-linecap="butt"/>
<path d="M830.50 1039.80 L856.59 1061.72 L849.68 1066.66 L842.76 1071.60 Z" fill="#ff0000" stroke="#ff0000" stroke-width="1.5" stroke-linejoin="round"/>
<g transform="translate(-2.78 44.20)" fill="#000000"><text transform="translate(0.00 0) scale(1.0000 1.0000)" font-size="61.00">(a)</text></g>
<g transform="translate(-2.78 744.20)" fill="#000000"><text transform="translate(0.00 0) scale(1.0000 1.0000)" font-size="61.00">(b)</text></g>
<g transform="translate(44.50 655.91) rotate(-90)" fill="#000000"><text transform="translate(0.00 0) scale(0.9908 1.0440)" font-size="54.20">K</text><text transform="translate(35.82 0) scale(0.9908 1.0000)" font-size="54.20">err</text><text transform="translate(116.37 0) scale(0.9908 1.0000)" font-size="54.20">ellipticity</text><text transform="translate(334.23 0) scale(0.9908 1.0000)" font-size="54.20">(arb</text><text transform="translate(429.73 0) scale(0.9908 1.0210)" font-size="54.20">.</text><text transform="translate(459.57 0) scale(0.9908 1.0000)" font-size="54.20">unit)</text></g>
<g transform="translate(44.50 1366.66) rotate(-90)" fill="#000000"><text transform="translate(0.00 0) scale(0.9929 1.0440)" font-size="54.70">K</text><text transform="translate(36.22 0) scale(0.9929 1.0000)" font-size="54.70">err</text><text transform="translate(117.69 0) scale(0.9929 1.0000)" font-size="54.70">ellipticity</text><text transform="translate(338.01 0) scale(0.9929 1.0000)" font-size="54.70">(arb</text><text transform="translate(434.59 0) scale(0.9929 1.0210)" font-size="54.70">.</text><text transform="translate(464.77 0) scale(0.9929 1.0000)" font-size="54.70">unit)</text></g>
<g transform="translate(107.97 164.10)" fill="#000000"><path transform="translate(0.00 0) scale(1.0000 1.0210)" d="M22.75 0.00 L22.75 -39.72 L19.34 -39.72 C17.37 -34.74 12.74 -31.56 7.47 -29.76 L7.47 -25.24 C11.58 -26.63 15.05 -28.95 17.54 -30.98 L17.54 0.00 Z"/><text transform="translate(32.20 0) scale(1.0000 1.0210)" font-size="57.90">.0</text></g>
<g transform="translate(108.14 248.78)" fill="#000000"><text transform="translate(0.00 0) scale(1.0000 1.0210)" font-size="57.90">0.5</text></g>
<g transform="translate(107.97 333.45)" fill="#000000"><text transform="translate(0.00 0) scale(1.0000 1.0210)" font-size="57.90">0.0</text></g>
<g transform="translate(88.86 418.13)" fill="#000000"><text transform="translate(0.00 0) scale(1.0000 1.0000)" font-size="57.90">-</text><text transform="translate(19.28 0) scale(1.0000 1.0210)" font-size="57.90">0.5</text></g>
<g transform="translate(88.69 502.80)" fill="#000000"><text transform="translate(0.00 0) scale(1.0000 1.0000)" font-size="57.90">-</text><path transform="translate(19.28 0) scale(1.0000 1.0210)" d="M22.75 0.00 L22.75 -39.72 L19.34 -39.72 C17.37 -34.74 12.74 -31.56 7.47 -29.76 L7.47 -25.24 C11.58 -26.63 15.05 -28.95 17.54 -30.98 L17.54 0.00 Z"/><text transform="translate(51.48 0) scale(1.0000 1.0210)" font-size="57.90">.0</text></g>
<g transform="translate(165.29 583.00)" fill="#000000"><text transform="translate(0.00 0) scale(1.0000 1.0000)" font-size="58.20">-</text><text transform="translate(19.38 0) scale(1.0000 1.0210)" font-size="58.20">20</text></g>
<g transform="translate(355.59 583.00)" fill="#000000"><text transform="translate(0.00 0) scale(1.0000 1.0000)" font-size="58.20">-</text><path transform="translate(19.38 0) scale(1.0000 1.0210)" d="M22.87 0.00 L22.87 -39.93 L19.44 -39.93 C17.46 -34.92 12.80 -31.72 7.51 -29.91 L7.51 -25.38 C11.64 -26.77 15.13 -29.10 17.63 -31.14 L17.63 0.00 Z"/><text transform="translate(51.75 0) scale(1.0000 1.0210)" font-size="58.20">0</text></g>
<g transform="translate(571.92 583.00)" fill="#000000"><text transform="translate(0.00 0) scale(1.0000 1.0210)" font-size="58.20">0</text></g>
<g transform="translate(743.41 583.00)" fill="#000000"><path transform="translate(0.00 0) scale(1.0000 1.0210)" d="M22.87 0.00 L22.87 -39.93 L19.44 -39.93 C17.46 -34.92 12.80 -31.72 7.51 -29.91 L7.51 -25.38 C11.64 -26.77 15.13 -29.10 17.63 -31.14 L17.63 0.00 Z"/><text transform="translate(32.37 0) scale(1.0000 1.0210)" font-size="58.20">0</text></g>
<g transform="translate(936.01 583.00)" fill="#000000"><text transform="translate(0.00 0) scale(1.0000 1.0210)" font-size="58.20">20</text></g>
<g transform="translate(276.12 652.20)" fill="#000000"><text transform="translate(0.00 0) scale(1.0000 1.0440)" font-size="57.05">M</text><text transform="translate(47.52 0) scale(1.0000 1.0000)" font-size="57.05">agnetic</text><text transform="translate(247.34 0) scale(1.0000 1.0000)" font-size="57.05">field</text><text transform="translate(367.84 0) scale(1.0000 1.0000)" font-size="57.05">(</text><text transform="translate(386.84 0) scale(1.0000 1.0440)" font-size="57.05">K</text><text transform="translate(440.74 0) scale(1.0000 1.0440)" font-size="57.05">G</text><text transform="translate(485.12 0) scale(1.0000 1.0000)" font-size="57.05">auss)</text></g>
<g transform="translate(108.93 870.30)" fill="#000000"><text transform="translate(0.00 0) scale(1.0000 1.0210)" font-size="58.30">0.0</text></g>
<g transform="translate(90.17 936.50)" fill="#000000"><text transform="translate(0.00 0) scale(1.0000 1.0000)" font-size="58.30">-</text><text transform="translate(19.41 0) scale(1.0000 1.0210)" font-size="58.30">0.2</text></g>
<g transform="translate(88.95 1002.70)" fill="#000000"><text transform="translate(0.00 0) scale(1.0000 1.0000)" font-size="58.30">-</text><text transform="translate(19.41 0) scale(1.0000 1.0210)" font-size="58.30">0.4</text></g>
<g transform="translate(89.80 1068.90)" fill="#000000"><text transform="translate(0.00 0) scale(1.0000 1.0000)" font-size="58.30">-</text><text transform="translate(19.41 0) scale(1.0000 1.0210)" font-size="58.30">0.6</text></g>
<g transform="translate(89.77 1135.10)" fill="#000000"><text transform="translate(0.00 0) scale(1.0000 1.0000)" font-size="58.30">-</text><text transform="translate(19.41 0) scale(1.0000 1.0210)" font-size="58.30">0.8</text></g>
<g transform="translate(89.52 1201.30)" fill="#000000"><text transform="translate(0.00 0) scale(1.0000 1.0000)" font-size="58.30">-</text><path transform="translate(19.41 0) scale(1.0000 1.0210)" d="M22.91 0.00 L22.91 -39.99 L19.47 -39.99 C17.49 -34.98 12.83 -31.77 7.52 -29.97 L7.52 -25.42 C11.66 -26.82 15.16 -29.15 17.66 -31.19 L17.66 0.00 Z"/><text transform="translate(51.84 0) scale(1.0000 1.0210)" font-size="58.30">.0</text></g>
<g transform="translate(321.38 1308.50)" fill="#000000"><text transform="translate(0.00 0) scale(1.0000 1.0000)" font-size="58.50">-</text><path transform="translate(19.48 0) scale(1.0000 1.0210)" d="M22.99 0.00 L22.99 -40.13 L19.54 -40.13 C17.55 -35.10 12.87 -31.88 7.55 -30.07 L7.55 -25.51 C11.70 -26.91 15.21 -29.25 17.73 -31.30 L17.73 0.00 Z"/><text transform="translate(52.02 0) scale(1.0000 1.0210)" font-size="58.50">2</text></g>
<g transform="translate(542.68 1308.50)" fill="#000000"><text transform="translate(0.00 0) scale(1.0000 1.0000)" font-size="58.50">-</text><text transform="translate(19.48 0) scale(1.0000 1.0210)" font-size="58.50">8</text></g>
<g transform="translate(747.51 1308.50)" fill="#000000"><text transform="translate(0.00 0) scale(1.0000 1.0000)" font-size="58.50">-</text><text transform="translate(19.48 0) scale(1.0000 1.0210)" font-size="58.50">4</text></g>
<g transform="translate(962.93 1308.50)" fill="#000000"><text transform="translate(0.00 0) scale(1.0000 1.0210)" font-size="58.50">0</text></g>
<g transform="translate(279.07 1371.20)" fill="#000000"><text transform="translate(0.00 0) scale(1.0000 1.0440)" font-size="57.67">M</text><text transform="translate(48.04 0) scale(1.0000 1.0000)" font-size="57.67">agnetic</text><text transform="translate(250.03 0) scale(1.0000 1.0000)" font-size="57.67">field</text><text transform="translate(371.84 0) scale(1.0000 1.0000)" font-size="57.67">(</text><text transform="translate(391.05 0) scale(1.0000 1.0440)" font-size="57.67">K</text><text transform="translate(445.53 0) scale(1.0000 1.0440)" font-size="57.67">G</text><text transform="translate(490.39 0) scale(1.0000 1.0000)" font-size="57.67">auss)</text></g>
<path d="M306.02 166.08 L310.61 166.08 L324.48 202.60 L319.48 202.60 L312.50 183.78 L304.79 202.60 L300.00 202.60 L309.79 177.00Z" fill="#ff0000"/>
<rect x="341.80" y="177.00" width="24.12" height="4.39" fill="#ff0000"/>
<rect x="341.80" y="188.12" width="24.12" height="4.39" fill="#ff0000"/>
<g transform="translate(382.75 202.60)" fill="#ff0000"><text transform="translate(0.00 0) scale(1.0000 1.0210)" font-size="51.00">500</text><text transform="translate(99.26 0) scale(1.0000 1.0000)" font-size="51.00">nm</text></g>
<path d="M245.47 337.38 L250.03 337.38 L263.80 373.90 L258.84 373.90 L251.91 355.08 L244.26 373.90 L239.50 373.90 L249.22 348.30Z" fill="#0033cc"/>
<rect x="281.00" y="348.30" width="23.95" height="4.39" fill="#0033cc"/>
<rect x="281.00" y="359.42" width="23.95" height="4.39" fill="#0033cc"/>
<g transform="translate(321.65 373.90)" fill="#0033cc"><text transform="translate(0.00 0) scale(0.9928 1.0210)" font-size="51.00">750</text><text transform="translate(98.55 0) scale(0.9928 1.0000)" font-size="51.00">nm</text></g>
<path d="M408.65 911.88 L413.27 911.88 L427.23 948.40 L422.20 948.40 L415.17 929.58 L407.42 948.40 L402.60 948.40 L412.45 922.80Z" fill="#0033cc"/>
<rect x="444.65" y="922.80" width="24.27" height="4.39" fill="#0033cc"/>
<rect x="444.65" y="933.92" width="24.27" height="4.39" fill="#0033cc"/>
<g transform="translate(485.85 948.40)" fill="#0033cc"><text transform="translate(0.00 0) scale(1.0060 1.0210)" font-size="51.00">750</text><text transform="translate(99.86 0) scale(1.0060 1.0000)" font-size="51.00">nm</text></g>
<path d="M730.03 1122.68 L734.63 1122.68 L748.53 1159.20 L743.52 1159.20 L736.52 1140.38 L728.80 1159.20 L724.00 1159.20 L733.81 1133.60Z" fill="#ff0000"/>
<rect x="765.88" y="1133.60" width="24.17" height="4.39" fill="#ff0000"/>
<rect x="765.88" y="1144.72" width="24.17" height="4.39" fill="#ff0000"/>
<g transform="translate(806.91 1159.20)" fill="#ff0000"><text transform="translate(0.00 0) scale(1.0020 1.0210)" font-size="51.00">500</text><text transform="translate(99.46 0) scale(1.0020 1.0000)" font-size="51.00">nm</text></g>
<text transform="translate(771.99 267.4) scale(1 1.036)" font-size="47.7" fill="#a810d0">H</text>
</svg></body></html>
